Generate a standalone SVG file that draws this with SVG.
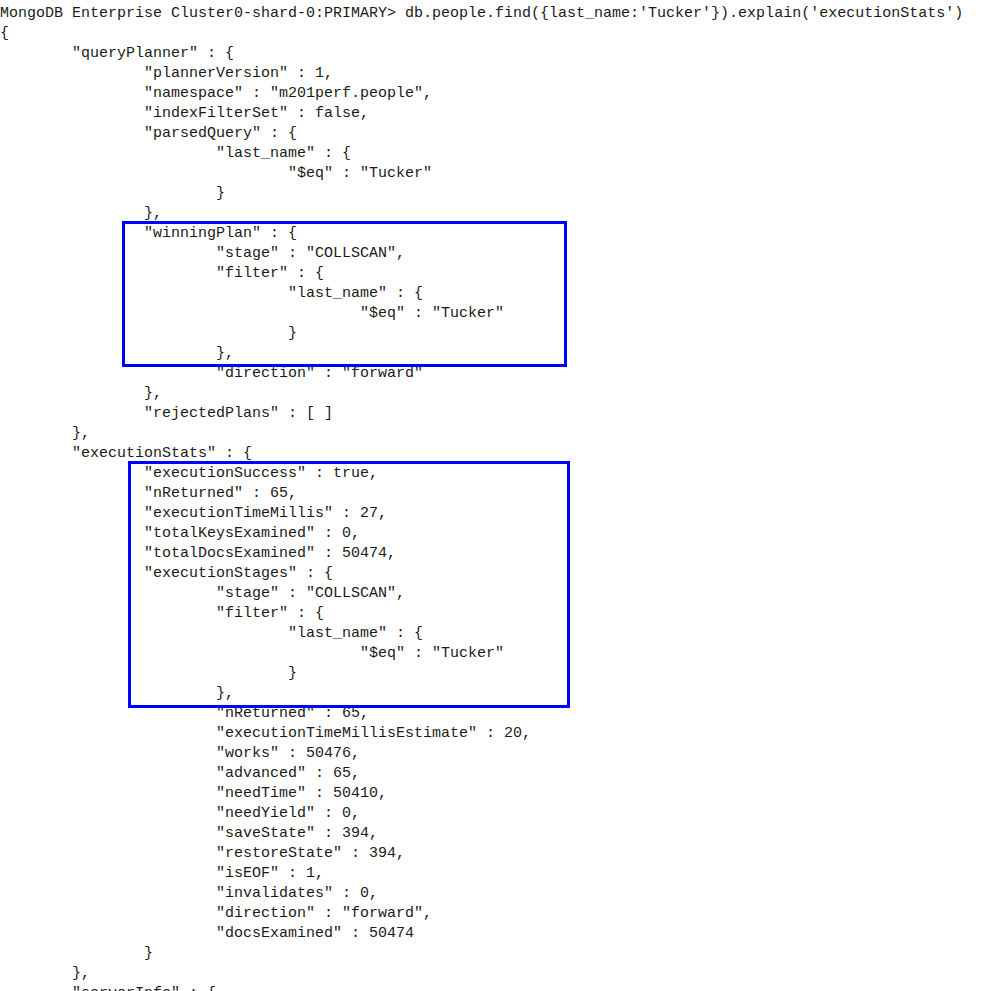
<svg xmlns="http://www.w3.org/2000/svg" width="985" height="991" viewBox="0 0 985 991">
<style>
text{font-family:"Liberation Mono","DejaVu Sans Mono",monospace;font-size:15px;fill:#1a1a1a;white-space:pre}
.box{fill:none;stroke:#0000ff;stroke-width:3}
</style>
<rect width="985" height="991" fill="#fff"/>
<g id="console">
<text x="0" y="17">MongoDB Enterprise Cluster0-shard-0:PRIMARY&gt; db.people.find({last_name:'Tucker'}).explain('executionStats')</text>
<text x="0" y="37">{</text>
<text x="72" y="57">"queryPlanner" : {</text>
<text x="144" y="77">"plannerVersion" : 1,</text>
<text x="144" y="97">"namespace" : "m201perf.people",</text>
<text x="144" y="117">"indexFilterSet" : false,</text>
<text x="144" y="137">"parsedQuery" : {</text>
<text x="216" y="157">"last_name" : {</text>
<text x="288" y="177">"$eq" : "Tucker"</text>
<text x="216" y="197">}</text>
<text x="144" y="217">},</text>
<text x="144" y="237">"winningPlan" : {</text>
<text x="216" y="257">"stage" : "COLLSCAN",</text>
<text x="216" y="277">"filter" : {</text>
<text x="288" y="297">"last_name" : {</text>
<text x="360" y="317">"$eq" : "Tucker"</text>
<text x="288" y="337">}</text>
<text x="216" y="357">},</text>
<text x="216" y="377">"direction" : "forward"</text>
<text x="144" y="397">},</text>
<text x="144" y="417">"rejectedPlans" : [ ]</text>
<text x="72" y="437">},</text>
<text x="72" y="457">"executionStats" : {</text>
<text x="144" y="477">"executionSuccess" : true,</text>
<text x="144" y="497">"nReturned" : 65,</text>
<text x="144" y="517">"executionTimeMillis" : 27,</text>
<text x="144" y="537">"totalKeysExamined" : 0,</text>
<text x="144" y="557">"totalDocsExamined" : 50474,</text>
<text x="144" y="577">"executionStages" : {</text>
<text x="216" y="597">"stage" : "COLLSCAN",</text>
<text x="216" y="617">"filter" : {</text>
<text x="288" y="637">"last_name" : {</text>
<text x="360" y="657">"$eq" : "Tucker"</text>
<text x="288" y="677">}</text>
<text x="216" y="697">},</text>
<text x="216" y="717">"nReturned" : 65,</text>
<text x="216" y="737">"executionTimeMillisEstimate" : 20,</text>
<text x="216" y="757">"works" : 50476,</text>
<text x="216" y="777">"advanced" : 65,</text>
<text x="216" y="797">"needTime" : 50410,</text>
<text x="216" y="817">"needYield" : 0,</text>
<text x="216" y="837">"saveState" : 394,</text>
<text x="216" y="857">"restoreState" : 394,</text>
<text x="216" y="877">"isEOF" : 1,</text>
<text x="216" y="897">"invalidates" : 0,</text>
<text x="216" y="917">"direction" : "forward",</text>
<text x="216" y="937">"docsExamined" : 50474</text>
<text x="144" y="957">}</text>
<text x="72" y="977">},</text>
<text x="72" y="997">"serverInfo" : {</text>
</g>
<g id="highlights">
<rect class="box" x="123.5" y="222.5" width="442" height="143"/>
<rect class="box" x="129.5" y="462.5" width="439" height="244"/>
</g>
</svg>
